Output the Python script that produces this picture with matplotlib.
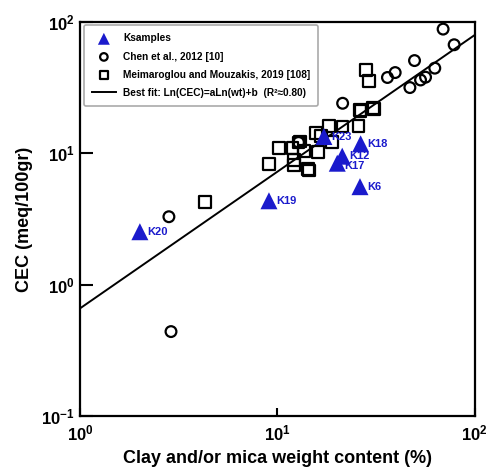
import math
import matplotlib
matplotlib.use("Agg")
import matplotlib.pyplot as plt
from matplotlib.ticker import LogLocator, FuncFormatter, NullLocator

plt.rcParams['font.family'] = ['Liberation Sans', 'DejaVu Sans']
plt.rcParams['mathtext.fontset'] = 'custom'
plt.rcParams['mathtext.rm'] = 'Liberation Sans:bold'
plt.rcParams['mathtext.bf'] = 'Liberation Sans:bold'
plt.rcParams['mathtext.it'] = 'Liberation Sans:bold'

# Ksamples (this study)
k_names = ["K23", "K18", "K12", "K17", "K6", "K19", "K20"]
k_wt = [17.2, 26.4, 21.3, 20.1, 26.2, 9.06, 2.01]
k_cec = [13.4, 11.8, 9.5, 8.4, 5.57, 4.35, 2.53]

# Chen et al., 2012
chen_wt = [69.1, 78.6, 49.5, 39.5, 36.1, 46.9, 53.1, 56.3, 62.7, 21.4, 2.82, 2.89, 12.8]
chen_cec = [88.0, 66.9, 50.7, 41.1, 37.7, 31.6, 36.1, 37.9, 44.4, 24.0, 3.29, 0.44, 12.1]

# Meimaroglou and Mouzakis, 2019
mm_wt = [28.1, 29.2, 26.2, 26.4, 30.6, 30.9, 25.7, 18.3, 21.4, 15.7, 18.9,
         10.2, 11.9, 12.8, 13.0, 13.6, 16.1, 9.06, 12.1, 12.1, 14.3, 14.5, 4.3, 16.6]
mm_cec = [43.0, 35.6, 21.4, 21.0, 22.0, 21.6, 16.1, 16.1, 16.0, 14.2, 12.2,
          11.0, 11.0, 12.1, 12.3, 10.4, 10.2, 8.3, 8.9, 8.15, 7.55, 7.4, 4.26, 13.6]

# best fit line: log10(CEC) = a*log10(wt) + b
fit_a = 1.04
fit_b = -0.18
fit_x = [1.0, 100.0]
fit_y = [10 ** (fit_b + fit_a * math.log10(v)) for v in fit_x]

blue = '#1a1acc'

fig = plt.figure(figsize=(4.91, 4.74), dpi=100)
ax = fig.add_axes([0.163, 0.122, 0.804, 0.832])

ax.plot(fit_x, fit_y, color='black', lw=1.4,
        label='Best fit: Ln(CEC)=aLn(wt)+b  (R\u00b2\u22480.80)', zorder=2)
ax.scatter(mm_wt, mm_cec, marker='s', s=70, facecolors='none', edgecolors='black',
           linewidths=1.6, label='Meimaroglou and Mouzakis, 2019 [108]', zorder=3)
ax.scatter(chen_wt, chen_cec, marker='o', s=60, facecolors='none', edgecolors='black',
           linewidths=1.6, label='Chen et al., 2012 [10]', zorder=3)
ax.scatter(k_wt, k_cec, marker='^', s=150, color=blue, edgecolors='none',
           label='Ksamples', zorder=4)
for n, x, y in zip(k_names, k_wt, k_cec):
    dy = -2 if n == "K17" else 0
    ax.annotate(n, (x, y), xytext=(5, dy), textcoords='offset points',
                color=blue, fontsize=8, fontweight='bold', va='center', ha='left',
                zorder=5)

ax.set_xscale('log')
ax.set_yscale('log')
ax.set_xlim(1, 100)
ax.set_ylim(0.1, 100)

ax.xaxis.set_major_locator(LogLocator(base=10, numticks=10))
ax.yaxis.set_major_locator(LogLocator(base=10, numticks=10))
ax.xaxis.set_minor_locator(NullLocator())
ax.yaxis.set_minor_locator(NullLocator())
fmt = FuncFormatter(lambda v, p: r'$\mathbf{10^{%d}}$' % round(math.log10(v)))
ax.xaxis.set_major_formatter(fmt)
ax.yaxis.set_major_formatter(fmt)
ax.tick_params(axis='both', direction='in', width=1.5, labelsize=12)
ax.tick_params(axis='x', length=6, pad=5)
ax.tick_params(axis='y', length=9, pad=4)
for s in ax.spines.values():
    s.set_linewidth(1.6)

ax.set_xlabel('Clay and/or mica weight content (%)', fontsize=13, fontweight='bold', labelpad=5)
ax.set_ylabel('CEC (meq/100gr)', fontsize=13, fontweight='bold', labelpad=6)

h, l = ax.get_legend_handles_labels()
order = [3, 2, 1, 0]
leg = ax.legend([h[i] for i in order], [l[i] for i in order], loc='upper left',
                frameon=True, fancybox=True, edgecolor='#aaaaaa', framealpha=1,
                borderaxespad=0.35, borderpad=0.8, handlelength=2.4, handletextpad=0.7,
                labelspacing=0.8, markerscale=0.7, prop={'weight': 'bold', 'size': 7.3})
leg.get_frame().set_linewidth(1.2)

fig.savefig('out.png', dpi=100)
